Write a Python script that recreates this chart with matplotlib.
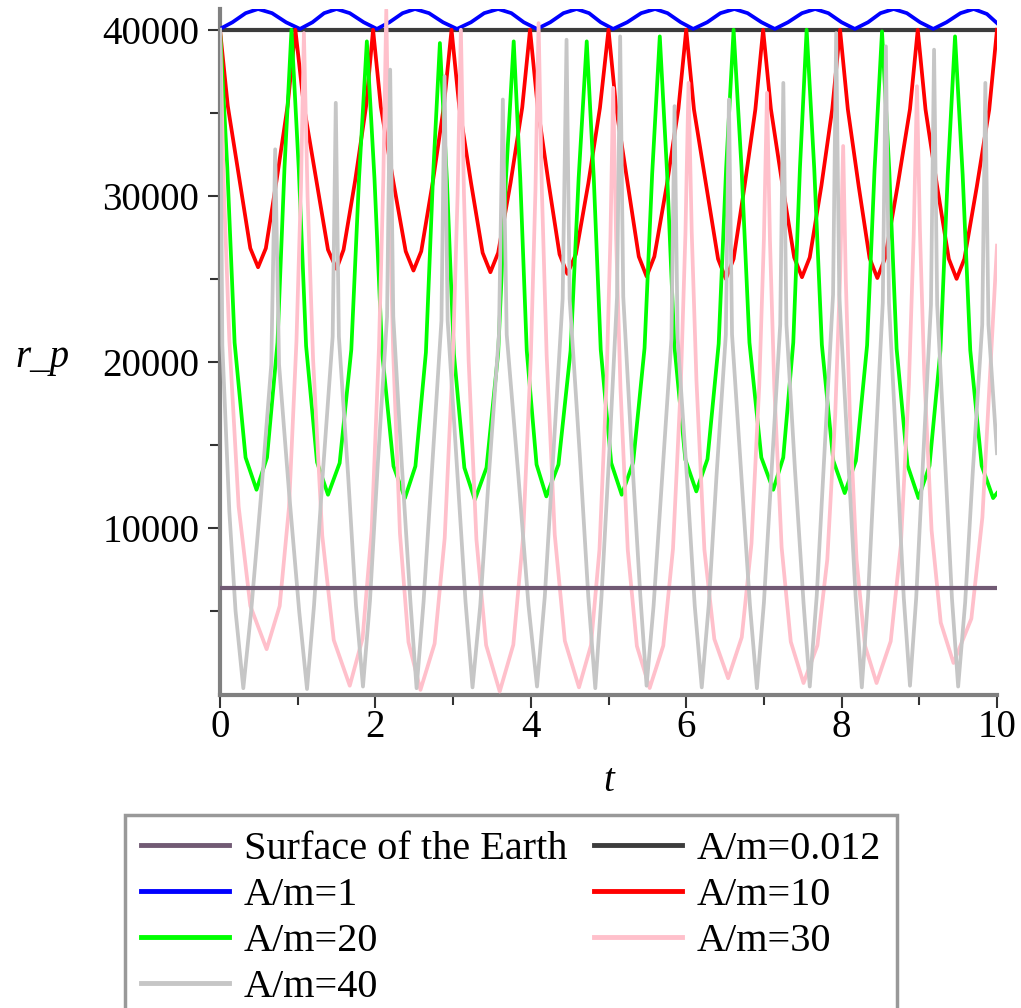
import matplotlib.pyplot as plt
from matplotlib.ticker import FixedLocator

# values (t, r_p)
t_surface = [0, 10]
r_surface = [6378, 6378]

t_a0012 = [0, 10]
r_a0012 = [40000, 40000]

t_a1 = [0, 0.16, 0.33, 0.49, 0.67, 0.85, 1.03, 1.19, 1.34, 1.50, 1.67, 1.85,
        2.02, 2.18, 2.35, 2.51, 2.69, 2.87, 3.05, 3.23, 3.40, 3.58, 3.75, 3.91,
        4.08, 4.25, 4.42, 4.59, 4.75, 4.90, 5.06, 5.24, 5.42, 5.60, 5.76, 5.93,
        6.09, 6.27, 6.44, 6.62, 6.79, 6.97, 7.14, 7.31, 7.49, 7.66, 7.83, 8.00,
        8.17, 8.34, 8.50, 8.67, 8.84, 9.01, 9.18, 9.35, 9.53, 9.70, 9.87, 10.0]
r_a1 = [40050, 40450, 41000, 41250, 41000, 40450, 40050, 40450, 41000, 41250, 41000, 40450,
        40050, 40450, 41000, 41250, 41000, 40450, 40050, 40450, 41000, 41250, 41000, 40450,
        40050, 40450, 41000, 41250, 41000, 40450, 40050, 40450, 41000, 41250, 41000, 40450,
        40050, 40450, 41000, 41250, 41000, 40450, 40050, 40450, 41000, 41250, 41000, 40450,
        40050, 40450, 41000, 41250, 41000, 40450, 40050, 40450, 41000, 41250, 40950, 40400]

t_a10 = [0, 0.10, 0.25, 0.39, 0.49, 0.59, 0.73, 0.87,
         0.97, 1.08, 1.24, 1.39, 1.50, 1.59, 1.74, 1.88,
         1.97, 2.07, 2.23, 2.39, 2.49, 2.59, 2.74, 2.88,
         2.98, 3.08, 3.23, 3.38, 3.48, 3.58, 3.74, 3.89,
         3.99, 4.09, 4.23, 4.37, 4.47, 4.58, 4.74, 4.89,
         5.00, 5.10, 5.25, 5.39, 5.49, 5.59, 5.75, 5.90,
         6.00, 6.10, 6.26, 6.41, 6.51, 6.61, 6.75, 6.89,
         6.99, 7.09, 7.24, 7.39, 7.49, 7.59, 7.74, 7.88,
         7.98, 8.08, 8.22, 8.36, 8.46, 8.56, 8.72, 8.88,
         8.98, 9.08, 9.23, 9.38, 9.48, 9.58, 9.74, 9.90,
         10.0]
r_a10 = [40000, 35420, 30990, 26840, 25700, 26840, 30990, 35420,
         40000, 35390, 30930, 26750, 25600, 26750, 30930, 35390,
         40000, 35360, 30870, 26660, 25500, 26660, 30870, 35360,
         40000, 35330, 30800, 26570, 25400, 26570, 30800, 35330,
         40000, 35300, 30740, 26480, 25300, 26480, 30740, 35300,
         40000, 35250, 30640, 26340, 25150, 26340, 30640, 35250,
         40000, 35200, 30550, 26200, 25000, 26200, 30550, 35200,
         40000, 35230, 30610, 26290, 25100, 26290, 30610, 35230,
         40000, 35220, 30580, 26250, 25050, 26250, 30580, 35220,
         40000, 35200, 30550, 26200, 25000, 26200, 30550, 35200,
         40000]

t_a20 = [0, 0.094, 0.188, 0.329, 0.47, 0.605, 0.74, 0.83,
         0.92, 1.014, 1.108, 1.249, 1.39, 1.54, 1.69, 1.79,
         1.89, 1.988, 2.086, 2.233, 2.38, 2.515, 2.65, 2.74,
         2.83, 2.92, 3.01, 3.145, 3.28, 3.43, 3.58, 3.68,
         3.78, 3.864, 3.948, 4.074, 4.2, 4.356, 4.512, 4.616,
         4.72, 4.81, 4.9, 5.035, 5.17, 5.317, 5.464, 5.562,
         5.66, 5.754, 5.848, 5.989, 6.13, 6.274, 6.418, 6.514,
         6.61, 6.712, 6.814, 6.967, 7.12, 7.249, 7.378, 7.464,
         7.55, 7.648, 7.746, 7.893, 8.04, 8.184, 8.328, 8.424,
         8.52, 8.614, 8.708, 8.849, 8.99, 9.131, 9.272, 9.366,
         9.46, 9.558, 9.656, 9.803, 9.95, 10.0]
r_a20 = [40000, 31690, 21160, 14240, 12300, 14240, 21160, 31690,
         40000, 31600, 20960, 13960, 12000, 13910, 20740, 31110,
         39300, 31050, 20600, 13725, 11800, 13718, 20568, 30980,
         39200, 30950, 20500, 13625, 11700, 13632, 20532, 31020,
         39300, 31080, 20668, 13818, 11900, 13818, 20668, 31080,
         39300, 31110, 20736, 13911, 12000, 13932, 20832, 31320,
         39600, 31380, 20968, 14118, 12200, 14146, 21096, 31660,
         40000, 31690, 21160, 14240, 12300, 14240, 21160, 31690,
         40000, 31630, 21028, 14053, 12100, 14046, 20996, 31560,
         39900, 31470, 20792, 13767, 11800, 13746, 20696, 31260,
         39600, 31260, 20696, 13746, 11800, 12100]

t_a30 = [0, 0.048, 0.12, 0.24, 0.39, 0.60, 0.768, 0.888, 0.984, 1.042,
         1.08, 1.127, 1.198, 1.316, 1.464, 1.67, 1.835, 1.952, 2.046, 2.102,
         2.14, 2.175, 2.228, 2.316, 2.426, 2.58, 2.762, 2.892, 2.996, 3.058,
         3.10, 3.14, 3.20, 3.30, 3.425, 3.60, 3.775, 3.90, 4.00, 4.06,
         4.10, 4.142, 4.204, 4.308, 4.438, 4.62, 4.774, 4.884, 4.972, 5.025,
         5.06, 5.098, 5.154, 5.248, 5.365, 5.53, 5.705, 5.83, 5.93, 5.99,
         6.03, 6.071, 6.132, 6.234, 6.362, 6.54, 6.715, 6.84, 6.94, 7.00,
         7.04, 7.078, 7.134, 7.228, 7.346, 7.51, 7.688, 7.816, 7.918, 7.979,
         8.02, 8.054, 8.106, 8.192, 8.30, 8.45, 8.632, 8.762, 8.866, 8.928,
         8.97, 9.008, 9.064, 9.158, 9.276, 9.44, 9.67, 9.812, 9.93, 10.0]
r_a30 = [40000, 30675, 21350, 11280, 5310, 2700, 5297, 11233, 21250, 30525,
         39800, 29975, 20150, 9539, 3251, 500, 3349, 9861, 20850, 31025,
         41200, 30962, 20725, 9669, 3116, 250, 3032, 9392, 20125, 30062,
         40000, 30038, 20075, 9316, 2939, 150, 2967, 9407, 20275, 30337,
         40400, 30400, 20400, 9600, 3200, 400, 2927, 8703, 18450, 27475,
         36500, 27465, 18430, 8672, 2890, 360, 2911, 8741, 18580, 27690,
         36800, 27838, 18875, 8696, 3310, 950, 3417, 9057, 18575, 27387,
         36200, 27315, 18430, 8834, 3148, 660, 2924, 8098, 16830, 24915,
         33000, 24915, 16830, 8098, 2924, 660, 3176, 8926, 18630, 27615,
         36600, 27918, 19235, 9858, 4301, 1870, 4539, 10640, 20935, 27000]

t_a40 = [0, 0.03, 0.12, 0.20, 0.30,
         0.40, 0.53, 0.66, 0.71, 0.76, 0.89, 1.02, 1.12,
         1.21, 1.32, 1.45, 1.49, 1.53, 1.65, 1.75, 1.84,
         1.93, 2.03, 2.15, 2.19, 2.23, 2.34, 2.45, 2.53,
         2.62, 2.73, 2.85, 2.89, 2.93, 3.05, 3.16, 3.25,
         3.35, 3.46, 3.59, 3.64, 3.69, 3.84, 3.97, 4.08,
         4.18, 4.29, 4.41, 4.46, 4.50, 4.63, 4.74, 4.83,
         4.91, 5.01, 5.11, 5.15, 5.19, 5.30, 5.41, 5.49,
         5.58, 5.69, 5.81, 5.85, 5.89, 6.01, 6.11, 6.20,
         6.29, 6.39, 6.51, 6.55, 6.59, 6.71, 6.82, 6.91,
         7.00, 7.10, 7.21, 7.25, 7.29, 7.40, 7.51, 7.59,
         7.68, 7.78, 7.89, 7.93, 7.97, 8.08, 8.18, 8.26,
         8.34, 8.43, 8.53, 8.57, 8.61, 8.71, 8.80, 8.88,
         8.96, 9.05, 9.15, 9.19, 9.23, 9.33, 9.42, 9.50,
         9.59, 9.69, 9.81, 9.85, 9.89, 10.0]
r_a40 = [40000, 21000, 11000, 5000, 350,
         4936, 12064, 19840, 32800, 19840, 12064, 4936, 300,
         5328, 13072, 21520, 35600, 21520, 13072, 5328, 450,
         5608, 13792, 22720, 37600, 22720, 13792, 5608, 350,
         5552, 13648, 22480, 37200, 22480, 13648, 5552, 400,
         5356, 13144, 21640, 35800, 21640, 13144, 5356, 450,
         5860, 14440, 23800, 39400, 23800, 14440, 5860, 350,
         5888, 14512, 23920, 39600, 23920, 14512, 5888, 500,
         5300, 13000, 21400, 35400, 21400, 13000, 5300, 400,
         5356, 13144, 21640, 35800, 21640, 13144, 5356, 350,
         5496, 13504, 22240, 36800, 22240, 13504, 5496, 450,
         5916, 14584, 24040, 39800, 24040, 14584, 5916, 400,
         5804, 14296, 23560, 39000, 23560, 14296, 5804, 500,
         5776, 14224, 23440, 38800, 23440, 14224, 5776, 450,
         5496, 13504, 22240, 36800, 22240, 14500]

serif = ['Liberation Serif', 'DejaVu Serif']
plt.rcParams['font.family'] = serif

fig = plt.figure(figsize=(10.21, 10.08), dpi=100)
ax = fig.add_axes([220 / 1021, 1 - 695 / 1008, 777 / 1021, 686 / 1008])

lw = 2.7
h_surf, = ax.plot(t_surface, r_surface, color='#715a74', lw=3, zorder=9)
h_0012, = ax.plot(t_a0012, r_a0012, color='#3c3c3c', lw=3, zorder=2)
h_1, = ax.plot(t_a1, r_a1, color='#0000ff', lw=lw, zorder=3)
h_10, = ax.plot(t_a10, r_a10, color='#ff0000', lw=lw, zorder=4)
h_20, = ax.plot(t_a20, r_a20, color='#00ff00', lw=lw, zorder=5)
h_30, = ax.plot(t_a30, r_a30, color='#ffc0cb', lw=lw, zorder=6)
h_40, = ax.plot(t_a40, r_a40, color='#c6c6c6', lw=lw, zorder=7)

ax.set_xlim(0, 10)
ax.set_ylim(-60, 41250)

for s in ['top', 'right']:
    ax.spines[s].set_visible(False)
for s in ['left', 'bottom']:
    ax.spines[s].set_color('#808080')
    ax.spines[s].set_linewidth(3)

ax.xaxis.set_major_locator(FixedLocator([0, 2, 4, 6, 8, 10]))
ax.xaxis.set_minor_locator(FixedLocator([1, 3, 5, 7, 9]))
ax.yaxis.set_major_locator(FixedLocator([10000, 20000, 30000, 40000]))
ax.yaxis.set_minor_locator(FixedLocator([5000, 15000, 25000, 35000]))
ax.tick_params(which='major', length=9, width=1.5, color='#333333', labelsize=28)
ax.tick_params(axis='x', which='major', pad=1)
ax.tick_params(axis='y', which='major', pad=6)
ax.tick_params(which='minor', length=7, width=1.5, color='#333333')

ax.set_xlabel('t', fontsize=28, fontstyle='italic', labelpad=12)
fig.text(15 / 1021, 1 - 357 / 1008, 'r_p', fontsize=28, fontstyle='italic', va='center', ha='left')

handles = [h_surf, h_1, h_20, h_40, h_0012, h_10, h_30]
labels = ['Surface of the Earth', 'A/m=1', 'A/m=20', 'A/m=40', 'A/m=0.012', 'A/m=10', 'A/m=30']
leg = fig.legend(handles, labels, ncol=2, loc='upper left',
                 bbox_to_anchor=(125 / 1021, 1 - 815 / 1008), bbox_transform=fig.transFigure,
                 prop={'size': 29}, frameon=True, fancybox=False, borderaxespad=0,
                 handlelength=2.18, handletextpad=0.37, columnspacing=0.67,
                 labelspacing=0.22, borderpad=0.4)
leg.get_frame().set_edgecolor('#808080')
leg.get_frame().set_linewidth(2.5)
for ln in leg.get_lines():
    ln.set_linewidth(3.5)

fig.savefig('out.png', dpi=100)
